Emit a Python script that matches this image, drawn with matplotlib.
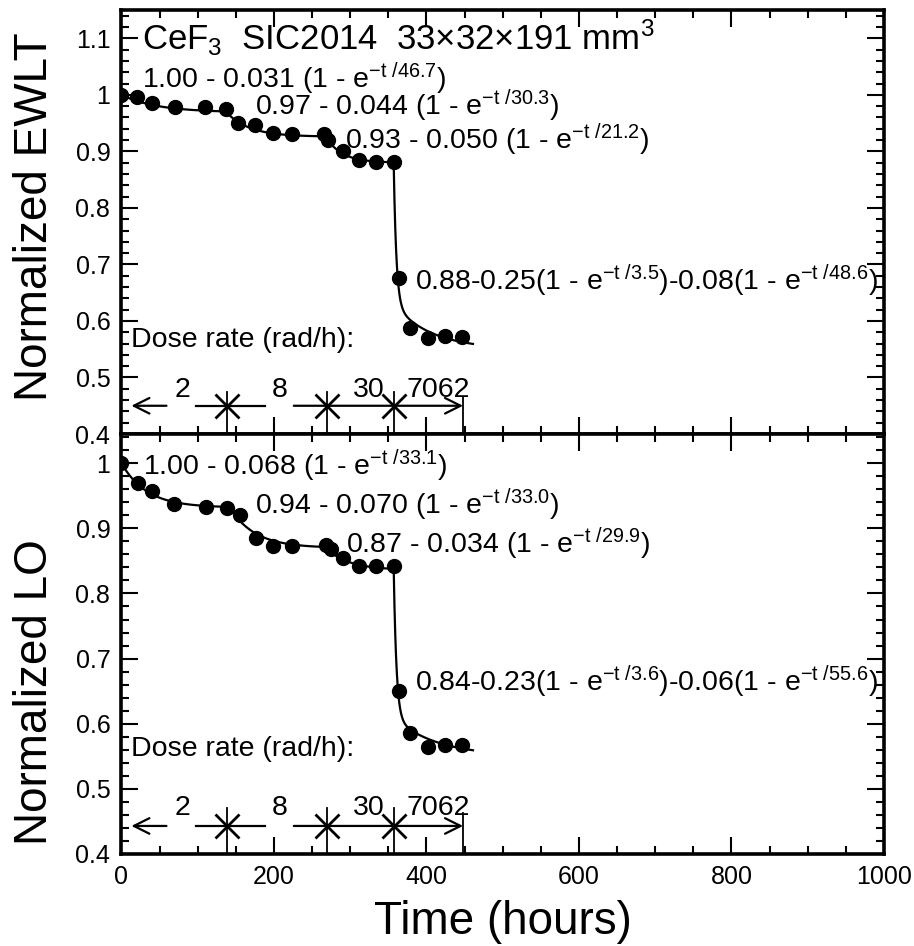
import numpy as np
import matplotlib
matplotlib.use("Agg")
import matplotlib.pyplot as plt
from matplotlib.ticker import MultipleLocator, FuncFormatter

plt.rcParams['font.family'] = ['Liberation Sans', 'DejaVu Sans']
plt.rcParams['mathtext.fontset'] = 'custom'
plt.rcParams['mathtext.rm'] = 'Liberation Sans'
plt.rcParams['mathtext.it'] = 'Liberation Sans:italic'
plt.rcParams['mathtext.default'] = 'rm'

# ---------------- data ----------------
ewlt_time = [0, 21, 40, 70, 110, 137, 153, 175, 199, 224, 266, 271, 290, 311, 334, 357,
             364, 379, 402, 424, 447]
ewlt_value = [1.000, 0.996, 0.986, 0.978, 0.978, 0.975, 0.951, 0.946, 0.933, 0.930, 0.930,
              0.920, 0.900, 0.885, 0.882, 0.882, 0.676, 0.587, 0.570, 0.573, 0.571]

lo_time = [0, 22, 40, 69, 111, 138, 155, 177, 199, 224, 268, 275, 290, 311, 334, 357,
           364, 379, 402, 424, 447]
lo_value = [1.000, 0.970, 0.957, 0.938, 0.933, 0.932, 0.920, 0.885, 0.873, 0.873, 0.874,
            0.868, 0.855, 0.842, 0.842, 0.842, 0.650, 0.585, 0.565, 0.567, 0.568]

# fit segments: y = a0 - a1 (1 - exp(-t'/tau1)) - a2 (1 - exp(-t'/tau2)), t' = t - start
fit_start = [0, 137, 266, 357]
fit_end = [137, 266, 357, 461]
ewlt_a0 = [1.00, 0.97, 0.93, 0.88]
ewlt_a1 = [0.031, 0.044, 0.050, 0.25]
ewlt_tau1 = [46.7, 30.3, 21.2, 3.5]
ewlt_a2 = [0.0, 0.0, 0.0, 0.08]
ewlt_tau2 = [1.0, 1.0, 1.0, 48.6]

lo_fit_start = [0, 138, 268, 357]
lo_a0 = [1.00, 0.94, 0.87, 0.84]
lo_a1 = [0.068, 0.070, 0.034, 0.23]
lo_tau1 = [33.1, 33.0, 29.9, 3.6]
lo_a2 = [0.0, 0.0, 0.0, 0.06]
lo_tau2 = [1.0, 1.0, 1.0, 55.6]

dose_change_time = [138, 269, 357]
dose_end_time = 448
dose_rates = ['2', '8', '30', '7062']

title_text = 'CeF$_3$  SIC2014  33\u00d732\u00d7191 mm$^3$'

FS_FIT = 20.5


def fit_label(a0, a1, t1, a2, t2, last):
    if not last:
        return '%.2f - %.3f (1 - e$^{-t\\ /%.1f}$)' % (a0, a1, t1)
    return '%.2f-%.2f(1 - e$^{-t\\ /%.1f}$)-%.2f(1 - e$^{-t\\ /%.1f}$)' % (a0, a1, t1, a2, t2)


def draw_panel(ax, t, v, starts, a0, a1, tau1, a2, tau2, ylim, label_pos,
               arrow_y, num_y, vert_top, dose_y):
    # fit curves
    for i in range(len(starts)):
        tt = np.linspace(starts[i], fit_end[i], 300)
        tp = tt - starts[i]
        yy = a0[i] - a1[i] * (1 - np.exp(-tp / tau1[i])) - a2[i] * (1 - np.exp(-tp / tau2[i]))
        ax.plot(tt, yy, color='black', lw=1.6, zorder=2)
    ax.plot(t, v, 'o', color='black', ms=10, zorder=3)
    # fit labels
    for i in range(len(starts)):
        ax.text(label_pos[i][0], label_pos[i][1],
                fit_label(a0[i], a1[i], tau1[i], a2[i], tau2[i], i == len(starts) - 1),
                fontsize=FS_FIT, va='baseline', ha='left', zorder=4)
    # dose rate annotation
    ax.text(12, dose_y, 'Dose rate (rad/h):', fontsize=FS_FIT, va='baseline', ha='left')
    ap = dict(arrowstyle='->', lw=1.6, color='black', mutation_scale=28, shrinkA=0, shrinkB=0)
    ax.annotate('', xy=(13, arrow_y), xytext=(59, arrow_y), arrowprops=ap)
    ax.plot([98, 188], [arrow_y, arrow_y], color='black', lw=1.6)
    ax.annotate('', xy=(dose_end_time, arrow_y), xytext=(226, arrow_y), arrowprops=ap)
    ax.plot(dose_change_time, [arrow_y] * len(dose_change_time), 'x', color='black',
            ms=17, mew=2)
    for tc in dose_change_time:
        ax.plot([tc, tc], [ylim[0], vert_top], color='black', lw=1.3)
    ax.plot([dose_end_time, dose_end_time], [ylim[0], vert_top - 0.008], color='black', lw=1.3)
    for x, s in zip([70, 197, 303, 374], dose_rates):
        ax.text(x, num_y, s, fontsize=FS_FIT, va='baseline', ha='left')

    ax.set_xlim(0, 1000)
    ax.set_ylim(*ylim)
    ax.xaxis.set_major_locator(MultipleLocator(200))
    ax.xaxis.set_minor_locator(MultipleLocator(50))
    ax.yaxis.set_major_locator(MultipleLocator(0.1))
    ax.yaxis.set_minor_locator(MultipleLocator(0.02))
    ax.yaxis.set_major_formatter(FuncFormatter(lambda val, p: ('%.1f' % val).replace('1.0', '1')))
    ax.tick_params(which='both', direction='in', top=True, right=True, labelsize=18,
                   width=1.5, pad=8)
    ax.tick_params(which='major', length=12)
    ax.tick_params(which='minor', length=6)
    for sp in ax.spines.values():
        sp.set_linewidth(2.6)


fig = plt.figure(figsize=(9.14, 9.46), dpi=100)
ax1 = fig.add_axes([0.1329, 0.5412, 0.8342, 0.4482])
ax2 = fig.add_axes([0.1329, 0.0973, 0.8342, 0.4440])

draw_panel(ax1, ewlt_time, ewlt_value, fit_start, ewlt_a0, ewlt_a1, ewlt_tau1, ewlt_a2,
           ewlt_tau2, (0.4, 1.15),
           [(26.5, 1.012), (175, 0.965), (293, 0.905), (385, 0.655)],
           arrow_y=0.45, num_y=0.4655, vert_top=0.474, dose_y=0.554)
draw_panel(ax2, lo_time, lo_value, lo_fit_start, lo_a0, lo_a1, lo_tau1, lo_a2,
           lo_tau2, (0.4, 1.045),
           [(28.6, 0.9815), (175, 0.9215), (295, 0.8615), (385, 0.651)],
           arrow_y=0.443, num_y=0.46, vert_top=0.471, dose_y=0.55)

ax1.tick_params(labelbottom=False)
ax1.text(26.5, 1.079, title_text, fontsize=25, va='baseline', ha='left')
ax2.set_xlabel('Time (hours)', fontsize=33, labelpad=8)

fig.text(0.038, 0.771, 'Normalized EWLT', rotation=90, fontsize=33, ha='center', va='center')
fig.text(0.038, 0.268, 'Normalized LO', rotation=90, fontsize=33, ha='center', va='center')

fig.savefig('out.png', dpi=100)
